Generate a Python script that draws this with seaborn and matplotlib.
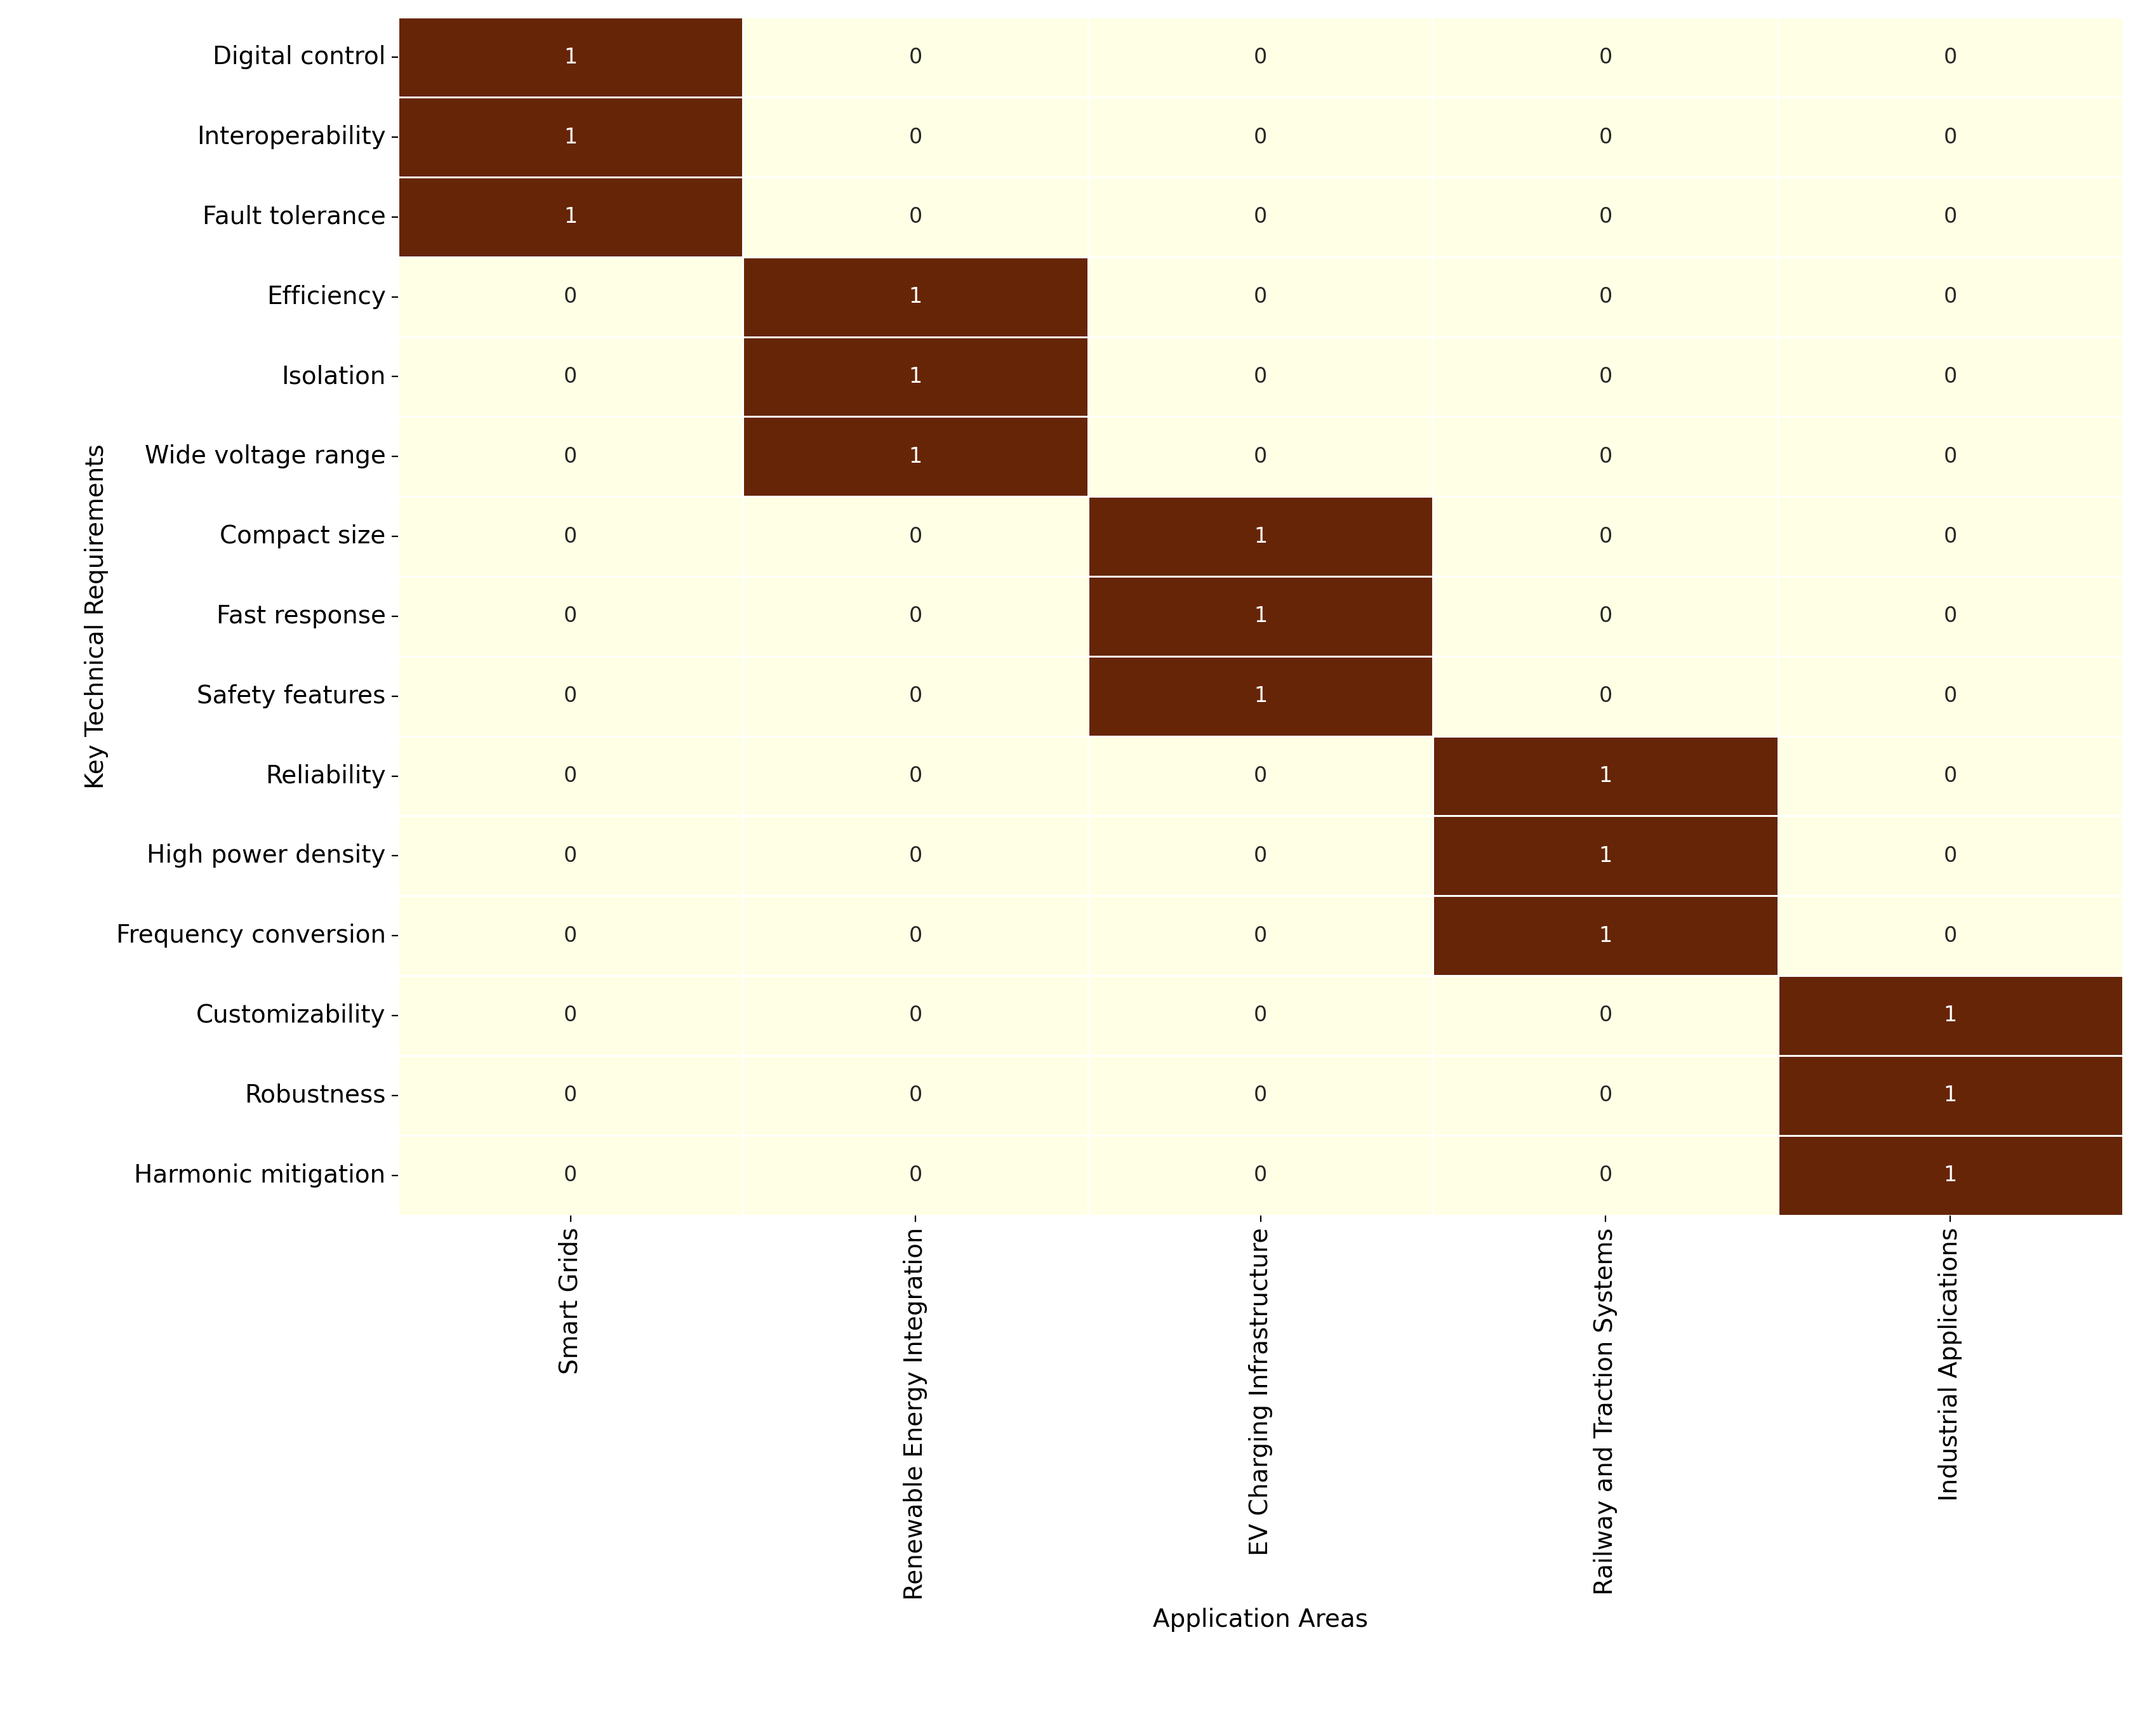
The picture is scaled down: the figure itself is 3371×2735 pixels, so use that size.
import numpy as np
import pandas as pd
import matplotlib
matplotlib.use("Agg")
import matplotlib.pyplot as plt
import seaborn as sns

areas = ["Smart Grids", "Renewable Energy Integration", "EV Charging Infrastructure",
         "Railway and Traction Systems", "Industrial Applications"]
requirements = ["Digital control", "Interoperability", "Fault tolerance",
                "Efficiency", "Isolation", "Wide voltage range",
                "Compact size", "Fast response", "Safety features",
                "Reliability", "High power density", "Frequency conversion",
                "Customizability", "Robustness", "Harmonic mitigation"]
# which area each requirement belongs to
req_area = [0, 0, 0, 1, 1, 1, 2, 2, 2, 3, 3, 3, 4, 4, 4]

matrix = np.zeros((len(requirements), len(areas)), dtype=int)
for i, a in enumerate(req_area):
    matrix[i, a] = 1
df = pd.DataFrame(matrix, index=requirements, columns=areas)

fig = plt.figure(figsize=(16.855, 13.675), dpi=200)
ax = fig.add_axes([0.186, 0.30, 0.806, 0.69])
sns.heatmap(df, ax=ax, cmap="YlOrBr", annot=True, fmt="d", cbar=False,
            linewidths=1, linecolor="white", annot_kws={"fontsize": 12})
ax.set_xlabel("Application Areas", fontsize=14)
ax.set_ylabel("Key Technical Requirements", fontsize=14)
ax.tick_params(axis="x", labelsize=14, rotation=90)
ax.tick_params(axis="y", labelsize=14, rotation=0)
fig.savefig("out.png", dpi=200)
